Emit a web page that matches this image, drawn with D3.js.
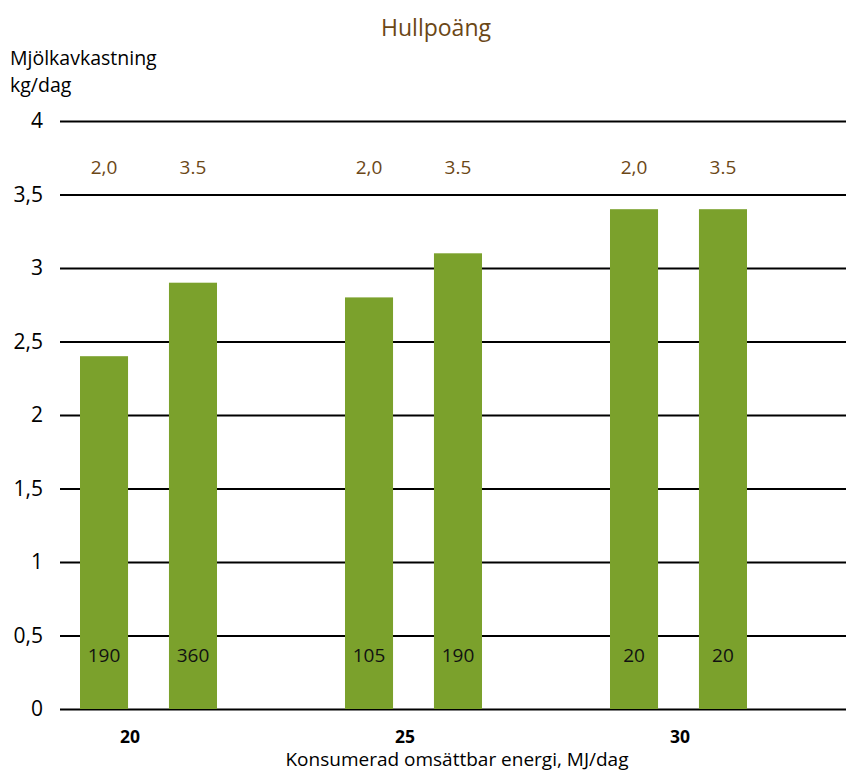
<!DOCTYPE html>
<html>
<head>
<meta charset="utf-8">
<script src="https://cdn.jsdelivr.net/npm/d3@7"></script>
<style>
  body { margin: 0; background: #fff; }
  text { font-family: "Open Sans", "Noto Sans", sans-serif; }
</style>
</head>
<body>
<div id="chart"></div>
<script>
// data
var energy = ["20", "25", "30"];          // MJ/dag
var hullpoang = ["2,0", "3.5"];           // sub groups
var milkYield = [[2.4, 2.9], [2.8, 3.1], [3.4, 3.4]];
var counts = [[190, 360], [105, 190], [20, 20]];
var yTicks = [0, 0.5, 1, 1.5, 2, 2.5, 3, 3.5, 4];

var width = 846, height = 772;
var brown = "#6b4716", green = "#7ba12c";

var svg = d3.select("#chart").append("svg")
  .attr("width", width)
  .attr("height", height);

var y = d3.scaleLinear().domain([0, 4]).range([709, 121]);

// groups of two bars
var x0 = d3.scaleBand()
  .domain(energy)
  .range([80, 747])
  .paddingInner(0.483)
  .paddingOuter(0);

var x1 = d3.scaleBand()
  .domain(hullpoang)
  .range([0, x0.bandwidth()])
  .paddingInner(0.46);

// label positions for the energy values under the groups
var xLab = d3.scalePoint().domain(energy).range([130, 680]);

var fmt = function(d) { return String(d).replace(".", ","); };

// gridlines + y tick labels
var yAxis = svg.append("g")
  .attr("transform", "translate(60,0)")
  .call(d3.axisLeft(y).tickValues(yTicks).tickSize(-(width - 60)).tickPadding(17).tickFormat(fmt));
yAxis.select(".domain").remove();
yAxis.selectAll("line").attr("stroke", "#000").attr("stroke-width", 2);
yAxis.selectAll("text")
  .attr("fill", "#000")
  .style("font-size", "21px");

var rows = energy.map(function(e, i) {
  return hullpoang.map(function(h, j) {
    return { e: e, h: h, v: milkYield[i][j], n: counts[i][j] };
  });
});

var group = svg.selectAll("g.grp")
  .data(rows)
  .enter().append("g")
  .attr("class", "grp")
  .attr("transform", function(d, i) { return "translate(" + x0(energy[i]) + ",0)"; });

var bar = group.selectAll("g.bar")
  .data(function(d) { return d; })
  .enter().append("g")
  .attr("class", "bar");

bar.append("rect")
  .attr("x", function(d) { return x1(d.h); })
  .attr("y", function(d) { return y(d.v); })
  .attr("width", x1.bandwidth())
  .attr("height", function(d) { return y(0) - y(d.v); })
  .style("fill", green);

// hullpoäng labels above
bar.append("text")
  .attr("x", function(d) { return x1(d.h) + x1.bandwidth() / 2; })
  .attr("y", 167)
  .attr("dy", ".35em")
  .attr("text-anchor", "middle")
  .style("font-size", "19px")
  .style("fill", brown)
  .text(function(d) { return d.h; });

// counts inside bars
bar.append("text")
  .attr("x", function(d) { return x1(d.h) + x1.bandwidth() / 2; })
  .attr("y", 655)
  .attr("dy", ".35em")
  .attr("text-anchor", "middle")
  .style("font-size", "19px")
  .style("fill", "#111")
  .text(function(d) { return d.n; });

// x labels
svg.selectAll("text.xlab")
  .data(energy)
  .enter().append("text")
  .attr("class", "xlab")
  .attr("x", function(d) { return xLab(d); })
  .attr("y", 743)
  .attr("text-anchor", "middle")
  .style("font-size", "17.5px")
  .style("font-weight", "bold")
  .text(function(d) { return d; });

svg.append("text")
  .attr("x", 457)
  .attr("y", 766)
  .attr("text-anchor", "middle")
  .style("font-size", "19px")
  .text("Konsumerad omsättbar energi, MJ/dag");

svg.append("text")
  .attr("x", 436)
  .attr("y", 36)
  .attr("text-anchor", "middle")
  .style("font-size", "23px")
  .style("fill", brown)
  .text("Hullpoäng");

svg.append("text")
  .attr("x", 10)
  .attr("y", 65)
  .style("font-size", "19.5px")
  .text("Mjölkavkastning");
svg.append("text")
  .attr("x", 10)
  .attr("y", 92)
  .style("font-size", "19.5px")
  .text("kg/dag");
</script>
</body>
</html>
